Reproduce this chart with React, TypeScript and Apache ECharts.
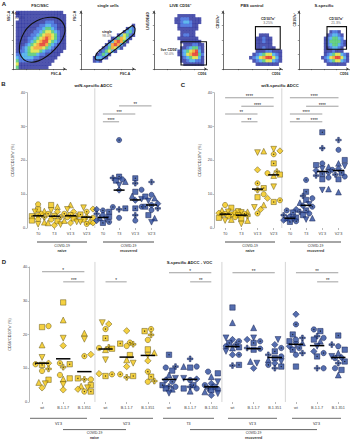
import React, { useEffect, useRef } from 'react';
import * as echarts from 'echarts';

const FONT = 'Liberation Sans, Arial, Helvetica, sans-serif';

// ---------------- Panel A: flow cytometry density maps (levels 0..7, top row first)
const fscSscDensity = [
  '011111111111111110',
  '011111111111111111',
  '001111111111111111',
  '011111111112221111',
  '011111111223322111',
  '011111112234432111',
  '011111122345543211',
  '011111223456654211',
  '011112234567654211',
  '011112345677543211',
  '011123456776432111',
  '011234566654321111',
  '012234555432211110',
  '022334443221111100',
  '032333322111111000',
  '042222211111110000',
  '051111111111100000',
  '041111111111000000',
];
const singleCellsDensity = [
  '000000000000000000',
  '000000000000000000',
  '000000000000000000',
  '000000000000000000',
  '000000000000000001',
  '000000000000000132',
  '000000000000001342',
  '000000000000135421',
  '000000000012465310',
  '000000000136764100',
  '000000001367631000',
  '000000012465310000',
  '000000124531000000',
  '000001243100000000',
  '000013321000000000',
  '000012100000000000',
  '000000000000000000',
  '000000000000000000',
];
const liveCd56Density = [
  '000000000000000000',
  '000000001111110000',
  '000000011222111100',
  '000000011233211100',
  '000000001222211000',
  '000000001111111000',
  '000000000111110000',
  '000000000122110000',
  '000000001111111000',
  '000000000111111100',
  '000000000011122110',
  '000000000112344210',
  '000000001234567310',
  '000000001235677420',
  '000000000123455310',
  '000000000112332210',
  '000000000011111110',
  '000000000000000000',
];
const pbsDensity = [
  '000000000000000000',
  '000000000000000000',
  '000000000000000000',
  '000000000000000000',
  '000000000000000000',
  '000000000000000000',
  '000000000000000000',
  '000000000001110000',
  '000000000011211000',
  '000000000011211000',
  '000000000011111000',
  '000000000011211100',
  '000000000011122111',
  '000000000123455321',
  '000000001235677531',
  '000000000123455321',
  '000000000011111110',
  '000000000000000000',
];
const sSpecificDensity = [
  '000000000000000000',
  '000000000000000000',
  '000000000000000000',
  '000000000000000000',
  '000000000000000000',
  '000000000000000000',
  '000000000001221000',
  '000000000012332100',
  '000000000123443200',
  '000000000124444210',
  '000000000123443210',
  '000000000112332100',
  '000000000111211100',
  '000000000123455321',
  '000000001235677531',
  '000000000123455321',
  '000000000011111110',
  '000000000000000000',
];
// gates: relative [x from left, y from top]
const fscSscGate = [[0.12, 0.69], [0.21, 0.37], [0.45, 0.17], [0.76, 0.11], [0.94, 0.2], [0.97, 0.4], [0.79, 0.66], [0.48, 0.86], [0.24, 0.86]];
const singleCellsGate = [[0.26, 0.8], [0.32, 0.7], [0.95, 0.25], [1.0, 0.3], [0.98, 0.4], [0.38, 0.84], [0.28, 0.84]];
const liveGate = [[0.51, 0.53], [0.99, 0.53], [0.99, 0.93], [0.51, 0.93]];
const pbsGate = [[0.55, 0.27], [0.97, 0.27], [0.97, 0.66], [0.55, 0.66]];
const sSpecificGate = [[0.56, 0.27], [0.95, 0.27], [0.95, 0.66], [0.56, 0.66]];

const flowTitles = ['FSC/SSC', 'single cells', 'LIVE CD56⁺', 'PBS control', 'S-specific'];
const flowXNames = ['FSC-A', 'FSC-A', 'CD56', 'CD56', 'CD56'];
const flowYNames = ['SSC-A', 'FSC-H', 'LIVE/DEAD', 'CD107a⁺', 'CD107a⁺'];
const gateNames = ['NK', 'single', 'live CD56⁺', 'CD107a⁺', 'CD107a⁺'];
const gatePercents = ['82.4%', '98.0%', '92.0%', '3.25%', '21.3%'];

// ---------------- Panels B & C
const timepoints = ['T0', 'T3', "V1'3", "V2'3"];
const wtN_naive = [
  [7, 5.5, 5, 4.8, 4.2, 3.8, 3.5, 3.2, 2.6, 2.2, 1.7, 1.1],
  [6.8, 6.3, 5.2, 4.8, 4.2, 3.6, 3.2, 2.5, 2, 1.5, 1, 0.8],
  [6.8, 5.5, 4.8, 4.2, 3.8, 3.5, 3.2, 2.8, 2.2, 1.8, 1.5],
  [6, 5.6, 4.8, 4, 3.3, 3, 2.5, 2, 1.8, 1.5, 1.2],
];
const wtN_recovered = [
  [5.5, 5.2, 4.8, 4.2, 3.8, 3.3, 3, 2.6, 2.2, 1.8, 1.5],
  [26, 15.2, 14.8, 14.4, 14, 13.7, 12.7, 11.2, 6.2, 5.8, 5.5, 3],
  [14.7, 13.2, 11.3, 10.7, 9.5, 8.5, 8.2, 6.3, 5.8, 3.8, 2.2],
  [13.6, 9.8, 9.3, 8.8, 8, 7.2, 6.8, 6.3, 5.8, 5.3, 3.8, 2.9, 1.7],
];
const wtN_naiveMedian = [3.6, 3.5, 3.6, 3.2];
const wtN_recoveredMedian = [3.1, 11.2, 8.3, 6.8];
const wtN_sig: [number, number, number, string][] = [
  [4, 5, 31.4, '****'], [4, 6, 33.7, '***'], [5, 7, 36.1, '**'],
];

const wtS_naive = [
  [6.8, 6, 5.2, 4.8, 4.4, 4.2, 4, 3.8, 3.4, 3, 2.5, 2.2],
  [5, 4.8, 4.6, 4.5, 4.2, 3.8, 3.6, 3.2, 2.8, 2.2, 1.2],
  [22.7, 22.3, 17.2, 13.2, 11.8, 11.2, 10, 9.1, 6.8, 6.1, 5.5, 4.3],
  [23.3, 22.8, 21.8, 19.1, 16.7, 16.2, 15.8, 15.5, 12.2, 8.8, 8.2, 7.7],
];
const wtS_recovered = [
  [5.5, 5.2, 4.6, 3.8, 3.4, 3.1, 2.9, 2.6, 2.3, 2, 1.8],
  [14.2, 10.7, 9.5, 8.8, 8.3, 7.5, 7, 6.6, 6.3, 5.2, 4.8, 4.3, 3.8, 2.9, 2.5],
  [28.3, 23.6, 19.1, 18.6, 18.1, 17.5, 17, 16.5, 16, 15.5, 14.9, 14.4, 11.5, 11.2],
  [26, 23.1, 20.1, 19.1, 18.3, 17.5, 17.2, 16.3, 15.8, 15.2, 14.4, 10.6],
];
const wtS_naiveMedian = [4.1, 3.8, 11.5, 15.7];
const wtS_recoveredMedian = [2.9, 6.7, 16.7, 17.0];
const wtS_sig: [number, number, number, string][] = [
  [0, 3, 38.5, '****'], [1, 3, 36, '****'], [0, 2, 33.7, '**'], [1, 2, 31.4, '**'],
  [4, 7, 38.5, '****'], [5, 7, 36, '****'], [4, 6, 33.7, '****'], [4, 5, 31.4, '**'], [5, 6, 31.4, '****'],
];

// ---------------- Panel D
const variants = ['wt', 'B.1.1.7', 'B.1.351'];
const voc_naiveV1 = [
  [22.5, 22.2, 16.9, 13.2, 11.5, 11.2, 11, 9.8, 9.2, 6.6, 5.8, 5.4, 4.2],
  [29.5, 24.3, 18.9, 16.7, 11.5, 11.2, 10.3, 8, 7, 6.8, 5.2, 3.6],
  [20.4, 18.6, 14.1, 13.6, 7, 6.7, 6.7, 5, 4.7, 4.2, 3.8, 3.1, 3.1],
];
const voc_naiveV2 = [
  [23.5, 23.1, 21.6, 18.9, 16.2, 16, 15.8, 15.5, 12.5, 8.4, 8.2, 7.7],
  [21.1, 17.6, 17.3, 17.1, 16.6, 13.9, 12.5, 11.5, 10.5, 8.2, 7.7, 7.3],
  [21.6, 21, 19.9, 18.4, 15.6, 14.6, 13.8, 12.2, 9, 7.5, 6.2, 6],
];
const voc_recT3 = [
  [14, 10.5, 10.2, 9.3, 8, 7, 6.5, 6, 5, 4.6, 4.5, 4, 3.8, 2.6],
  [12.8, 10.5, 10.2, 10.5, 7, 6.8, 6.5, 5, 4.5, 4, 4, 3.2],
  [9, 8.5, 7.5, 6, 5.5, 5, 4.5, 4, 3.8, 3.5, 3, 2.5, 2],
];
const voc_recV1 = [
  [28, 23.5, 19, 18.5, 18, 17.5, 17, 16.5, 16.2, 16, 15, 14, 14, 11, 10.8],
  [22, 19, 18.5, 18, 17.5, 16, 15.8, 15.5, 12, 11.5, 10],
  [18.5, 17, 16, 15, 14, 13.5, 13, 12.5, 12, 11.5, 11, 10.5, 10],
];
const voc_recV2 = [
  [26, 23, 20, 19, 18.5, 18, 17.5, 17, 16.5, 16, 15.5, 14.5, 14, 10.5],
  [21.5, 21, 19.5, 19, 18.5, 18, 16.5, 15, 14.5, 13.5, 10, 10],
  [19.7, 17, 16.5, 15.5, 14.5, 13.5, 13.2, 13, 12, 11.5, 10, 9.5, 8],
];
const voc_median = [11.5, 12.8, 9.0, 15.7, 13.3, 13.8, 6.7, 6.7, 4.5, 16.4, 15.8, 13.2, 17.1, 16.7, 13.2];
const voc_groupLabels = ["V1'3", "V2'3", 'T3', "V1'3", "V2'3"];
const voc_sig: [number, number, number, string][] = [
  [0, 2, 38.6, '*'], [1, 2, 35.6, '***'], [3, 4, 35.6, '*'],
  [6, 8, 38.3, '*'], [7, 8, 35.6, '**'], [9, 11, 38.3, '**'],
  [12, 14, 38.3, '**'], [13, 14, 35.6, '**'],
];

// ---------------- styling
const HEAT = ['', '#232a9a', '#2f5fd8', '#3aa6e8', '#45c46a', '#d8e035', '#f39a1e', '#e02a1c'];
const YEL = '#F3C511';
const YEL_B = '#5e5010';
const BLU = '#2B4A9B';
const BLU_B = '#101d4f';
const DOWN = 'path://M0,0L10,0L5,9Z';
const CROSS = 'path://M3.5,0L6.5,0L6.5,3.5L10,3.5L10,6.5L6.5,6.5L6.5,10L3.5,10L3.5,6.5L0,6.5L0,3.5L3.5,3.5Z';
const SHAPES = ['circle', 'rect', 'triangle', DOWN, 'diamond', 'circle', 'rect', CROSS];
const DOTTED = [0, 0, 0, 0, 0, 1, 1, 1];

function swarm(vals: number[], yUnit: number, maxOff: number, size: number): number[] {
  const order = vals.map((_, i) => i).sort((a, b) => vals[a] - vals[b]);
  const placed: [number, number][] = [];
  const off = new Array(vals.length).fill(0);
  const step = size * 0.6;
  const cands: number[] = [0];
  for (let k = 1; k <= 6; k++) { cands.push(k * step, -k * step); }
  for (const i of order) {
    const y = vals[i] * yUnit;
    let best = 0, bestD = -1;
    for (const c of cands) {
      if (Math.abs(c) > maxOff) continue;
      let md = Infinity;
      for (const [px, py] of placed) md = Math.min(md, Math.hypot(px - c, py - y));
      if (md >= size * 0.95) { best = c; bestD = Infinity; break; }
      if (md > bestD) { bestD = md; best = c; }
    }
    placed.push([best, y]);
    off[i] = best;
  }
  return off;
}

type Cat = { vals: number[]; med: number; naive: boolean };

function buildStrip(gi: number, cats: Cat[], bandPx: number, yUnit: number, size: number,
  sig: [number, number, number, string][], seps: number[], sepTop: number): any[] {
  const pts: any[] = [];
  const dots: any[] = [];
  cats.forEach((c, ci) => {
    const offs = swarm(c.vals, yUnit, bandPx * 0.4, size);
    c.vals.forEach((v, i) => {
      const k = (i + ci) % SHAPES.length;
      const sz = k === 2 || k === 3 ? size * 1.1 : k === 4 ? size * 1.2 : k === 7 ? size * 1.05 : size;
      pts.push({
        value: [ci, v], symbol: SHAPES[k], symbolSize: sz, symbolOffset: [offs[i], 0],
        itemStyle: { color: c.naive ? YEL : BLU, borderColor: c.naive ? YEL_B : BLU_B, borderWidth: 0.6 },
      });
      if (DOTTED[k]) dots.push({ value: [ci, v], symbolOffset: [offs[i], 0] });
    });
  });
  return [
    { type: 'scatter', xAxisIndex: gi, yAxisIndex: gi, data: pts, z: 3, silent: true },
    { type: 'scatter', xAxisIndex: gi, yAxisIndex: gi, data: dots, symbol: 'circle', symbolSize: 1.3, itemStyle: { color: '#111' }, z: 4, silent: true },
    {
      type: 'custom', xAxisIndex: gi, yAxisIndex: gi, z: 5, silent: true,
      data: cats.map((c, ci) => [ci, c.med]),
      renderItem: (_p: any, api: any) => {
        const c = api.coord([api.value(0), api.value(1)]);
        const hw = api.size([1, 0])[0] * 0.34;
        return { type: 'line', shape: { x1: c[0] - hw, y1: c[1], x2: c[0] + hw, y2: c[1] }, style: { stroke: '#000', lineWidth: 1.5 } };
      },
    },
    {
      type: 'custom', xAxisIndex: gi, yAxisIndex: gi, z: 5, silent: true,
      data: sig.map((s) => [s[0], s[2]]),
      renderItem: (p: any, api: any) => {
        const s = sig[p.dataIndex];
        const p1 = api.coord([s[0], s[2]]);
        const p2 = api.coord([s[1], s[2]]);
        return {
          type: 'group', children: [
            { type: 'line', shape: { x1: p1[0], y1: p1[1], x2: p2[0], y2: p2[1] }, style: { stroke: '#777', lineWidth: 0.7 } },
            { type: 'text', x: (p1[0] + p2[0]) / 2, y: p1[1] - 1.2, style: { text: s[3], textAlign: 'center', textVerticalAlign: 'middle', fontSize: 4.6, fontFamily: FONT, fill: '#222' } },
          ],
        };
      },
    },
    {
      type: 'custom', xAxisIndex: gi, yAxisIndex: gi, z: 1, silent: true,
      data: seps.map((s) => [s, 0]),
      renderItem: (_p: any, api: any) => {
        const c0 = api.coord([api.value(0), 0]);
        const ct = api.coord([api.value(0), sepTop]);
        const x = c0[0] + api.size([1, 0])[0] / 2;
        return { type: 'line', shape: { x1: x, y1: ct[1], x2: x, y2: c0[1] }, style: { stroke: '#c9c9c9', lineWidth: 0.8 } };
      },
    },
  ];
}

const FLOW = [
  { dens: fscSscDensity, gate: fscSscGate, smooth: 0.35, rect: { left: 13, top: 11, width: 53, height: 58 } },
  { dens: singleCellsDensity, gate: singleCellsGate, smooth: 0.2, rect: { left: 81, top: 11, width: 54, height: 58 } },
  { dens: liveCd56Density, gate: liveGate, smooth: 0, rect: { left: 154, top: 11, width: 53, height: 58 } },
  { dens: pbsDensity, gate: pbsGate, smooth: 0, rect: { left: 223, top: 11, width: 59, height: 58 } },
  { dens: sSpecificDensity, gate: sSpecificGate, smooth: 0, rect: { left: 299, top: 11, width: 50, height: 58 } },
];

function txt(x: number, y: number, text: string, o: any = {}) {
  return {
    type: 'text', x, y, rotation: o.rot || 0, silent: true,
    style: {
      text, x: 0, y: 0, textAlign: o.align || 'center', textVerticalAlign: 'middle',
      fontSize: o.size || 4, fontWeight: o.bold ? 'bold' : 'normal', fontFamily: FONT, fill: o.color || '#222',
    },
  };
}
function hline(x1: number, x2: number, y: number, color: string, w: number) {
  return { type: 'line', silent: true, shape: { x1, y1: y, x2, y2: y }, style: { stroke: color, lineWidth: w } };
}

function buildOption() {
  const grids: any[] = [];
  const xAxes: any[] = [];
  const yAxes: any[] = [];
  const series: any[] = [];

  FLOW.forEach((f, i) => {
    grids.push(f.rect);
    const rows = f.dens.length;
    const cols = f.dens[0].length;
    const axisCommon = {
      gridIndex: i, type: 'value', min: 0, interval: 4.5,
      axisLine: { show: true, lineStyle: { color: '#333', width: 0.7 }, symbol: ['none', 'arrow'], symbolSize: [2.5, 3] },
      axisTick: { show: true, length: 1.2, lineStyle: { color: '#333', width: 0.5 } },
      axisLabel: { show: false }, splitLine: { show: false },
    };
    xAxes.push({ ...axisCommon, max: cols });
    yAxes.push({ ...axisCommon, max: rows });
    const cells: any[] = [];
    f.dens.forEach((row, r) => {
      for (let c = 0; c < row.length; c++) {
        const lv = +row[c];
        if (lv > 0) cells.push({ value: [c + 0.5, rows - r - 0.5], itemStyle: { color: HEAT[lv] } });
      }
    });
    const cw = f.rect.width / cols;
    const ch = f.rect.height / rows;
    series.push({ type: 'scatter', xAxisIndex: i, yAxisIndex: i, data: cells, symbol: 'rect', symbolSize: [cw + 0.35, ch + 0.35], z: 2, silent: true });
    const gate = f.gate;
    const sm = f.smooth;
    series.push({
      type: 'custom', xAxisIndex: i, yAxisIndex: i, data: [[0, 0]], z: 5, silent: true,
      renderItem: (_p: any, api: any) => ({
        type: 'polygon',
        shape: { points: gate.map((g) => api.coord([g[0] * cols, (1 - g[1]) * rows])), smooth: sm },
        style: { fill: 'transparent', stroke: '#111', lineWidth: 1.1 },
      }),
    });
  });

  const stripY = (gi: number, offset: number) => ({
    gridIndex: gi, type: 'value', min: 0, max: 40, interval: 10, offset,
    axisLine: { show: true, lineStyle: { color: '#999', width: 0.7 } },
    axisTick: { show: true, length: 1.5, lineStyle: { color: '#999', width: 0.6 } },
    axisLabel: { fontSize: 3.8, color: '#444', margin: 2 },
    splitLine: { show: false },
    name: 'CD56⁺CD107a⁺ (%)', nameLocation: 'middle', nameGap: 12,
    nameTextStyle: { fontSize: 3.8, color: '#333' },
  });
  const stripX = (gi: number, data: string[]) => ({
    gridIndex: gi, type: 'category', data,
    axisLine: { show: false },
    axisTick: { show: true, alignWithLabel: true, length: 2, lineStyle: { color: '#888', width: 0.6 } },
    axisLabel: { fontSize: 3.8, color: '#444', margin: 3.5, interval: 0 },
    splitLine: { show: false },
  });

  // Panel B
  grids.push({ left: 30, top: 92.7, width: 129.6, height: 135.3 });
  xAxes.push(stripX(5, [...timepoints, ...timepoints]));
  yAxes.push(stripY(5, 3));
  const bCats: Cat[] = [
    ...wtN_naive.map((v, i) => ({ vals: v, med: wtN_naiveMedian[i], naive: true })),
    ...wtN_recovered.map((v, i) => ({ vals: v, med: wtN_recoveredMedian[i], naive: false })),
  ];
  series.push(...buildStrip(5, bCats, 16.2, 3.38, 5.2, wtN_sig, [3], 41.3));

  // Panel C
  grids.push({ left: 217, top: 92.7, width: 129.6, height: 135.3 });
  xAxes.push(stripX(6, [...timepoints, ...timepoints]));
  yAxes.push(stripY(6, 3));
  const cCats: Cat[] = [
    ...wtS_naive.map((v, i) => ({ vals: v, med: wtS_naiveMedian[i], naive: true })),
    ...wtS_recovered.map((v, i) => ({ vals: v, med: wtS_recoveredMedian[i], naive: false })),
  ];
  series.push(...buildStrip(6, cCats, 16.2, 3.38, 5.2, wtS_sig, [3], 41.3));

  // Panel D
  grids.push({ left: 29.35, top: 267, width: 319.5, height: 135 });
  const dGroups = [voc_naiveV1, voc_naiveV2, voc_recT3, voc_recV1, voc_recV2];
  xAxes.push(stripX(7, dGroups.flatMap(() => variants)));
  yAxes.push(stripY(7, 2.35));
  const dCats: Cat[] = [];
  dGroups.forEach((g, gi) => g.forEach((v) => dCats.push({ vals: v, med: voc_median[dCats.length], naive: gi < 2 })));
  series.push(...buildStrip(7, dCats, 21.3, 3.37, 5.4, voc_sig, [2, 8, 11], 41.5));

  // Graphic annotations
  const g: any[] = [];
  g.push(txt(4, 4, 'A', { bold: true, size: 6 }));
  g.push(txt(3.5, 84, 'B', { bold: true, size: 6 }));
  g.push(txt(183, 85, 'C', { bold: true, size: 6 }));
  g.push(txt(4, 262, 'D', { bold: true, size: 6 }));

  const titleX = [40, 108, 180, 252, 324];
  flowTitles.forEach((t, i) => g.push(txt(titleX[i], 5, t, { bold: true, size: 4 })));
  const xNamePos = [[56, 74], [125, 74], [202, 74], [276, 74], [344, 74]];
  const yNamePos = [[9, 16], [75, 16], [148, 21], [218, 22], [295, 20]];
  flowXNames.forEach((t, i) => g.push(txt(xNamePos[i][0], xNamePos[i][1], t, { bold: true, size: 3.3 })));
  flowYNames.forEach((t, i) => g.push(txt(yNamePos[i][0], yNamePos[i][1], t, { bold: true, size: 3.3, rot: Math.PI / 2 })));
  const gateLabelPos = [[15, 14, 'left'], [107, 31.5, 'center'], [169, 50, 'center'], [268, 19, 'center'], [336, 19, 'center']];
  gateNames.forEach((t, i) => {
    const [x, y, a] = gateLabelPos[i] as [number, number, string];
    g.push(txt(x, y, t, { bold: true, size: 3.5, align: a }));
    g.push(txt(x, y + 4, gatePercents[i], { size: 3.4, align: a, color: '#666' }));
  });

  g.push(txt(93.5, 85.5, 'wtN-specific ADCC', { bold: true, size: 4.2 }));
  g.push(txt(280, 85.5, 'wtS-specific ADCC', { bold: true, size: 4.2 }));
  g.push(txt(189.5, 262, 'S-specific ADCC - VOC', { bold: true, size: 4.2 }));

  // B & C cohort bars
  [[37, 87], [103, 154], [225, 275], [290, 341]].forEach(([a, b], i) => {
    g.push(hline(a, b, 242, '#888', 1.3));
    g.push(txt((a + b) / 2, 245.8, 'COVID-19', { size: 3.4 }));
    g.push(txt((a + b) / 2, 251, i % 2 === 0 ? 'naive' : 'recovered', { size: 3.6, bold: true, color: '#333' }));
  });
  // D timepoint bars
  [[30, 87], [100, 153], [163, 214], [228, 277], [292, 341]].forEach(([a, b], i) => {
    g.push(hline(a, b, 418.3, '#888', 1.3));
    g.push(txt((a + b) / 2, 423.8, voc_groupLabels[i], { size: 3.6 }));
  });
  [[63, 126, 'naive'], [190, 317, 'recovered']].forEach(([a, b, t]) => {
    const A = a as number, B = b as number;
    g.push(hline(A, B, 429.6, '#555', 0.9));
    g.push(txt((A + B) / 2, 433.4, 'COVID-19', { size: 3.4 }));
    g.push(txt((A + B) / 2, 438.3, t as string, { size: 3.6, bold: true, color: '#333' }));
  });

  return {
    animation: false,
    backgroundColor: '#fff',
    textStyle: { fontFamily: FONT },
    grid: grids,
    xAxis: xAxes,
    yAxis: yAxes,
    series,
    graphic: { elements: g },
  };
}

export default function App() {
  const ref = useRef<HTMLDivElement>(null);
  useEffect(() => {
    document.body.style.margin = '0';
    if (!ref.current) return;
    const chart = echarts.init(ref.current, undefined, { renderer: 'svg' });
    chart.setOption(buildOption());
    return () => chart.dispose();
  }, []);
  return <div ref={ref} style={{ width: 353, height: 440 }} />;
}
